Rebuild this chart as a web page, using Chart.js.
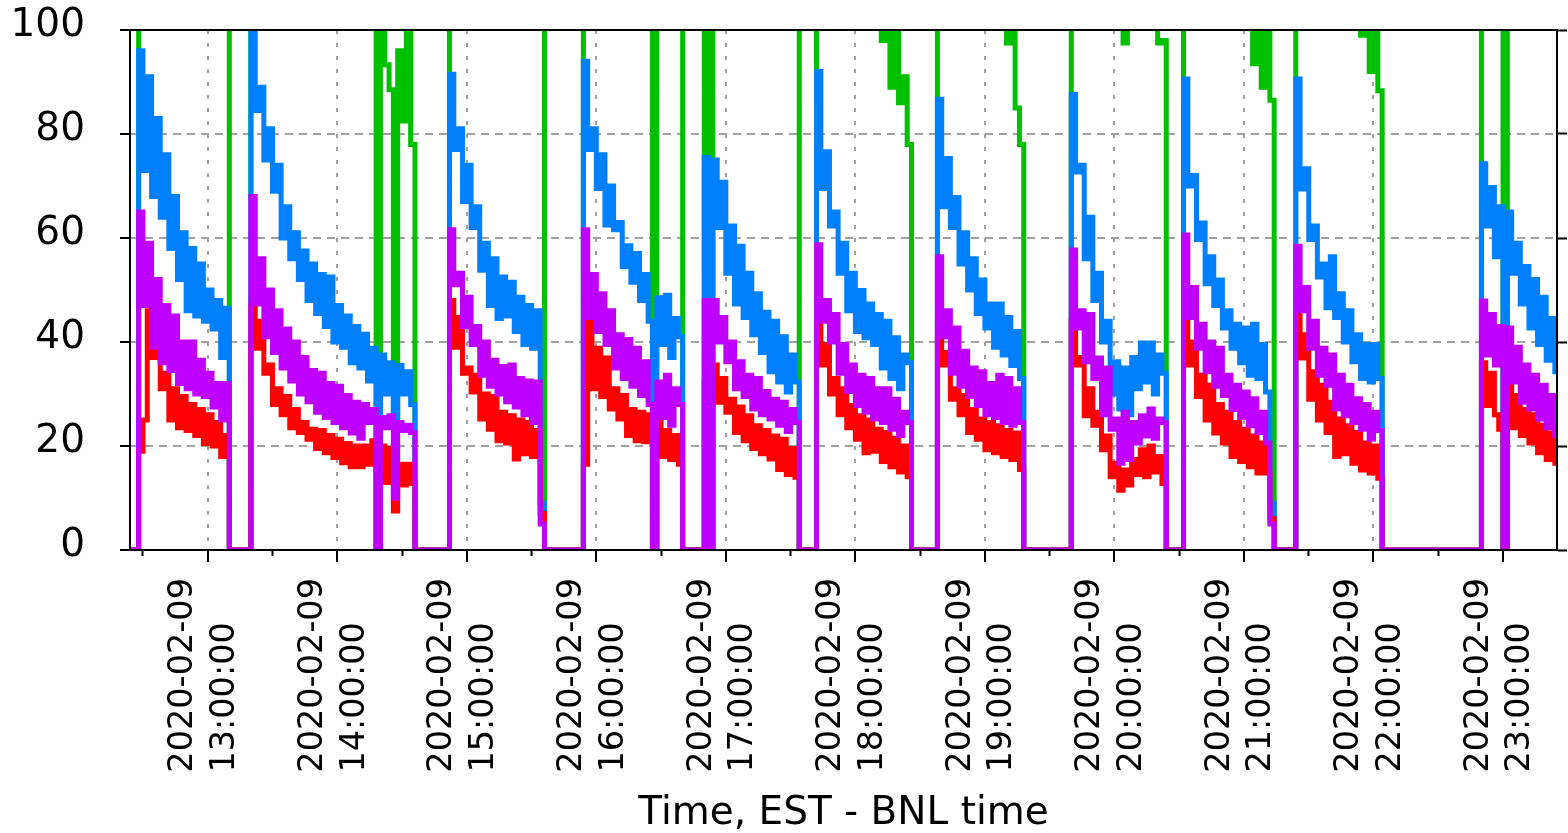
<!DOCTYPE html>
<html>
<head>
<meta charset="utf-8">
<script src="https://cdn.jsdelivr.net/npm/chart.js@4.4.1/dist/chart.umd.min.js"></script>
<style>
  html, body { margin: 0; padding: 0; background: #ffffff; }
  canvas { display: block; }
</style>
</head>
<body>
<canvas id="c" width="1568" height="833"></canvas>
<script>
// ---------------- data (time in minutes after midnight, 2020-02-09 EST) ----------------
const T_MIN = 744;     // axis start 12:24
const T_MAX = 1405;    // axis end   23:25
const T_FIRST = 744;   // first sample
const T_LAST = 1406;   // last sample
const STEP = 2;        // minutes between samples

const tickDate = '2020-02-09';
const hourTicks = [780, 840, 900, 960, 1020, 1080, 1140, 1200, 1260, 1320, 1380];
const hourLabels = ['13:00:00', '14:00:00', '15:00:00', '16:00:00', '17:00:00', '18:00:00',
                    '19:00:00', '20:00:00', '21:00:00', '22:00:00', '23:00:00'];
const halfHourTicks = [750, 810, 870, 930, 990, 1050, 1110, 1170, 1230, 1290, 1350];
const yTicks = [0, 20, 40, 60, 80, 100];

// start time of each fill (outside the fills every series reads 0)
const fillStart = [748, 800, 892, 954, 1010, 1062, 1118, 1180, 1232, 1284, 1370];

const blue = [
  [96,73,91,68,83,64,76,58,68,52,61,46,58,45,55,44,50,42.5,48,37,46.5],
  [100,84.5,89,75,81,69,74,60,66,56,61,52,57.5,48,55,45.5,53,43,52.5,40,47,39,45,36,43,35,41.5,32.5,38.8,0,37.5,30,36,25,35.5,30,34.3,28],
  [91.5,77,81,67,74,62,66,53.8,59,47,56,44.5,52.5,45,51.5,42,48.6,39.5,47,38.8,46,9],
  [94,77,81,69.5,76,62.5,70,61.6,63,54.5,58.5,51.5,57,48,53,44,0,48.5,39.5,49,37,44.5,41],
  [75.5,0,75,62,70.7,53.2,62.3,47.3,58.4,44.7,53.2,41.4,49.3,38,45.7,34.3,44,32.3,41,30.4,37.5,32.3],
  [92,69.5,76.6,62.3,65,53.2,59,46,53.2,42,49.9,40.8,47.3,39.5,45.3,35,44,33,40.8,31,37.5,36],
  [86.7,66,75.3,62,67.8,55,61,50,56,45.5,51.9,42.7,47.3,39,47.3,37.5,44.7,35.5,42,33],
  [87.6,72.7,74,56,64,48,53.2,40,44,30,36.2,27.1,35,26,37,31,39.8,32.3,39.8,30,37.5,34],
  [90.6,70,72,59.7,62.9,51.2,56.4,47,51.9,42.7,46,38.8,43.4,36,42.7,33.6,43.4,33,39.5,30.4,9],
  [90.6,69.4,73.3,59.7,62.3,52.5,55,46.6,56.4,44.7,49.3,40,46,36.2,41.4,33,39.5,32.3,39.5,33],
  [74.3,62.3,69.7,56.4,66,0,65,53.2,59,47.3,54.5,42.7,52,39.5,48.6,36.5,44.5,34.3,42]
];

const magenta = [
  [65,47,59,39,52,36,47,34.5,45,32,40,31,40,30,36.5,29.5,34,27.5,32,25,32],
  [68,47.3,56,41,50,38,46,35,42.5,32.5,40,30,37,28.5,34.5,26.5,34,25.5,32,24.5,31.5,23.5,29.7,22.5,28.4,21.5,28,24.5,27,0,25.5,23.5,25.8,10,24.5,23,24,22.6],
  [61.6,51,53.2,43,48.6,39.5,43,33.6,40,31.5,36.5,30,35.3,28.5,35.6,27.5,33,26,32.5,24.5,32.3,5],
  [61.6,44.7,53,42,49.3,39.5,46,35,41.4,33,40.5,31.5,38.8,29.7,36.2,28,0,32.3,25.5,33.6,24,31,28],
  [48,0,48,40,44.7,36.2,40,31,36.2,29.5,33.6,27.1,33,26,30.5,25.2,29,24,28.4,22.8,27,24.5],
  [58.7,44,48,40,45.3,34,39.5,30.5,35.6,27.8,33.6,26.5,33,25.2,31,24.5,31,23.2,29,22,26.5,24.5],
  [56.4,41,46,34,42.7,31.5,38.2,29.5,35,27.8,34.3,26,32,25.5,33.6,24.5,33,24,31,24.5],
  [57.7,42.7,46,36.2,45.3,33,36.9,26,35,23.2,25.2,16.7,26.5,17.4,24.5,20.6,25.8,21.9,27.1,21.5,25.2,24.5],
  [60.6,44.7,50.5,38.8,43.4,34.3,40,31.5,38.8,29.7,33.6,27,31.7,25.5,30.4,23.9,29.1,22.6,26.5,20.6,5],
  [58.4,46,50.5,38.8,44,33.6,38.8,31.7,37.5,27.1,33.6,25.8,31.7,24.5,29.1,23.2,28,21.3,26.5,23],
  [47.9,37.5,45.3,35.6,43,0,42.7,32.3,39,28.4,35.6,27.1,33.6,25.2,31.7,23.5,29.7,22,29]
];

const red = [
  [19,25,46,37,40,31,34,25,31,23.5,29.5,23,28,22,27,20.5,26,20,24.5,18,22],
  [47,38.8,44,34,35.6,28,31,26,29.5,23.5,27,22.6,24.5,21.3,23.2,19.5,23,18.7,22,17.8,21.3,16.8,20.5,16,20,16,20,16.5,21,0,20,13,19.5,7.5,16.5,12.5,16.5,12.8],
  [48,39,44.7,34,35,30.4,33.6,25.2,30,23.2,29.5,21,26.5,20.6,25.8,17.5,25,18.5,24.5,18,23,7],
  [16.5,46,31,38.8,29.5,36.9,27.1,31,25.2,29.7,22,27,21,26.5,20.8,26,0,24.5,18,23,17.4,22,16.5],
  [32,0,35.6,28.4,33,26.5,29,22.6,27.5,21,25.8,19.5,23.9,18.5,23,17.5,21.9,15.5,21.3,14.5,19.5,14],
  [43.7,35.6,39.5,30,33,26,31,23.5,27.8,21.3,25.8,18.7,25,19,23.2,17,22.6,16,21.5,15,20,14.1],
  [43,35.6,38,29,31,26,29.7,22.6,27,21.3,25.2,19.3,24.5,18.7,23.9,18,23,17.4,22.5,15.5],
  [44,35.6,37,25.8,31,24,26.5,19.3,21.9,14.1,16.7,11.5,15.4,12.5,17.4,14.5,19.3,14.1,20,15,18,12.8],
  [44.7,35.6,40,29.5,33.6,25,31.7,22.5,28,20.6,26.5,18,24.5,17,23.2,16,21.9,14.8,20.6,14.8,6],
  [45.3,36.9,41.4,29,34.3,25,31.7,22.6,28.4,18,25.2,18.5,23.9,16.7,22.6,15.4,20.6,14.8,20,13.8],
  [36,27.8,34,26,23.2,0,31.7,23.5,29.7,22,27,20.6,26,18.7,24,17.4,22.5,16.7,21]
];

// green mostly runs above 100 (off the top of the plot); only its dips are visible
const green = [
  [125,123,121,120,119,118,117,116,115,114,113,113,112,111,111,110,110,109,109,108,108],
  [140,137,134,131,129,127,125,123,121,119,118,116,115,114,113,112,111,110,109,108,107,106,105.5,105,104.5,104,103.5,103,102.5,0,102,93.3,88.5,25,96,82.5,101,78],
  [138,135,132,129,127,125,123,121,119,118,116,115,114,113,112,111,110,109,108.5,108,107.5,107],
  [136,133,130,128,126,124,122,120,118,117,116,115,114,113,112,111,0,110,109,108.5,108,107.5,107],
  [134,0,132,129,127,125,123,121,119,118,117,116,115,114,113,112,111,110,109.5,109,108.5,108],
  [135,132,129,127,125,123,121,119,117,115,113,111,109,107,104,98,101,89,100.5,86,91,78],
  [134,131,128,126,124,122,120,118,116,114,112,110,108,106,104,102,97.5,101,85,78],
  [133,130,127,124,121,118,115,112,110,108,106,104,97.5,103,104,103.5,103,102.5,102,101.5,97.5,98],
  [135,132,129,126,124,122,120,118,116,114,112,110,108,106,104,102,93.5,101,89,101,86.5],
  [134,131,128,125,123,121,119,117,115,113,111,109,107,105,103,99,101,92,101,88.3],
  [132,129,126,124,122,0,120,118,116,114,112,111,110,109,108,107,106,105,104]
];

// ---------------- build ----------------
function series(fills) {
  const n = Math.round((T_LAST - T_FIRST) / STEP) + 1;
  const ys = new Array(n).fill(0);
  fills.forEach((vals, k) => {
    const i0 = Math.round((fillStart[k] - T_FIRST) / STEP);
    vals.forEach((v, j) => { ys[i0 + j] = v; });
  });
  return ys.map((y, i) => ({ x: T_FIRST + i * STEP, y: y }));
}

function ds(label, fills, color) {
  return {
    label: label,
    data: series(fills),
    borderColor: color,
    backgroundColor: color,
    borderWidth: 5,
    stepped: true,
    fill: false,
    pointRadius: 0,
    pointHoverRadius: 0,
    borderJoinStyle: 'miter',
    borderCapStyle: 'butt',
    xAxisID: 'x',
    yAxisID: 'y'
  };
}

// fix a scale box to an exact size and drop the label overhang padding
function fixBox(w, h) {
  return (s) => {
    if (w !== null) s.width = w;
    if (h !== null) s.height = h;
    s.paddingLeft = 0; s.paddingRight = 0; s.paddingTop = 0; s.paddingBottom = 0;
  };
}

const FONT = "'DejaVu Sans', 'Liberation Sans', sans-serif";
Chart.defaults.font.family = FONT;
Chart.defaults.color = '#000000';

const GRID = '#a0a0a0';

new Chart(document.getElementById('c'), {
  type: 'line',
  data: {
    datasets: [
      ds('magenta', magenta, '#c000ff'),
      ds('red', red, '#ff0000'),
      ds('blue', blue, '#0080ff'),
      ds('green', green, '#00c000')
    ]
  },
  options: {
    responsive: false,
    animation: false,
    devicePixelRatio: 1,
    events: [],
    layout: { padding: 0 },
    plugins: { legend: { display: false }, tooltip: { enabled: false } },
    scales: {
      x: {
        type: 'linear', position: 'bottom', weight: 1,
        min: T_MIN, max: T_MAX,
        afterFit: fixBox(null, 283),
        afterBuildTicks: (s) => { s.ticks = hourTicks.map(v => ({ value: v })); },
        ticks: {
          autoSkip: false, minRotation: 90, maxRotation: 90,
          padding: 16, labelOffset: -24, color: '#000000',
          font: { family: FONT, size: 33.5, lineHeight: 1.245 },
          callback: (v) => [tickDate, hourLabels[hourTicks.indexOf(v)] + '\u2002\u2002 ']
        },
        grid: { color: GRID, lineWidth: 2, tickColor: '#000000', tickLength: 12, tickWidth: 2 },
        border: { display: true, color: '#000000', width: 2, dash: [4, 9], z: 1 },
        title: {
          display: true, text: 'Time, EST - BNL time', color: '#000000',
          font: { family: FONT, size: 39 }, padding: { top: 0, bottom: -4 }
        }
      },
      xMinor: {
        type: 'linear', position: 'bottom', weight: 0,
        min: T_MIN, max: T_MAX,
        afterFit: fixBox(null, 0),
        afterBuildTicks: (s) => { s.ticks = halfHourTicks.map(v => ({ value: v })); },
        ticks: { display: false },
        grid: { drawOnChartArea: false, drawTicks: true, tickLength: 6, tickWidth: 2, tickColor: '#000000', color: '#000000' },
        border: { display: false }
      },
      xTop: {
        type: 'linear', position: 'top',
        min: T_MIN, max: T_MAX,
        afterFit: fixBox(null, 30),
        ticks: { display: false },
        grid: { display: false },
        border: { display: true, color: '#000000', width: 2, z: 1 }
      },
      y: {
        type: 'linear', position: 'left',
        min: 0, max: 100,
        afterFit: fixBox(130, null),
        afterBuildTicks: (s) => { s.ticks = yTicks.map(v => ({ value: v })); },
        ticks: { color: '#000000', font: { family: FONT, size: 39 }, padding: 35, labelOffset: -4 },
        grid: {
          color: (c) => (c.tick && (c.tick.value === 0 || c.tick.value === 100)) ? 'rgba(0,0,0,0)' : GRID,
          lineWidth: 2, tickColor: '#000000', tickLength: 10, tickWidth: 2
        },
        border: { display: true, color: '#000000', width: 2, dash: [8, 6], z: 1 }
      },
      yR: {
        type: 'linear', position: 'right',
        min: 0, max: 100,
        afterFit: fixBox(11, null),
        afterBuildTicks: (s) => { s.ticks = yTicks.map(v => ({ value: v })); },
        ticks: { display: false },
        grid: { drawOnChartArea: false, drawTicks: true, tickColor: '#000000', tickLength: 10, tickWidth: 2, color: '#000000' },
        border: { display: true, color: '#000000', width: 2, z: 1 }
      }
    }
  }
});
</script>
</body>
</html>
